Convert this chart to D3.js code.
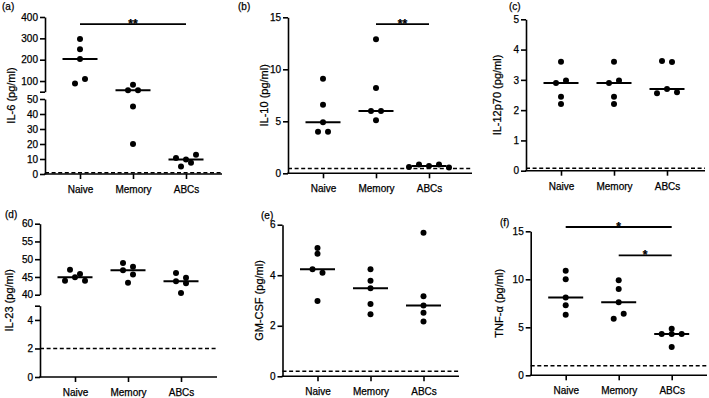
<!DOCTYPE html>
<html lang="en">
<head>
<meta charset="UTF-8">
<title>Cytokine panels</title>
<script src="https://d3js.org/d3.v7.min.js"></script>
<style>
  body { margin: 0; background: #fff; }
  svg { display: block; font-family: "Liberation Sans", Arial, Helvetica, sans-serif; }
  svg text { fill: #000; stroke: #000; stroke-width: 0.25px; }
  .axis text { font-family: "Liberation Sans", Arial, Helvetica, sans-serif; font-size: 10px; }
  .axis line, .axis path { stroke: #000; stroke-width: 1.6; }
</style>
</head>
<body>
<svg width="709" height="398"></svg>
<script>
const groups = ["Naive", "Memory", "ABCs"];

// replicate values per group (Naive, Memory, ABCs), pg/ml
const il6 = [[297, 249, 203, 88, 110], [82, 57, 57, 45, 20], [10.6, 9.6, 12.8, 5, 7.5]];
const il10 = [[9.1, 6.6, 4.9, 4.0, 4.0], [12.9, 8.2, 6.0, 6.0, 5.1], [0.6, 0.85, 0.7, 0.85, 0.55]];
const il12 = [[3.6, 2.9, 2.98, 2.44, 2.2], [3.6, 2.9, 2.98, 2.44, 2.2], [3.62, 3.59, 2.56, 2.7, 2.59]];
const il23 = [[43.9, 44.9, 43.9, 47, 45.8], [48.9, 47.9, 46.9, 45.7, 43.4], [46.1, 44.8, 43.8, 43.2, 40.5]];
const gmcsf = [[5.08, 4.85, 4.24, 4.1, 2.98], [4.24, 3.78, 3.48, 2.86, 2.46], [5.68, 3.17, 2.8, 2.52, 2.17]];
const tnfa = [[10.9, 10.0, 8.1, 7.3, 6.3], [9.9, 9.0, 7.6, 5.9, 6.4], [4.85, 4.3, 4.3, 4.3, 2.95]];

// detection limits (dashed lines)
const lod = { a: 0.8, b: 0.45, c: 0.08, d: 2, e: 0.2, f: 1 };

// tick labels
const il6TicksHigh = [100, 200, 300, 400];
const il6TicksLow = [0, 10, 20, 30, 40, 50];
const il10Ticks = [0, 5, 10, 15];
const il12Ticks = [0, 1, 2, 3, 4, 5];
const il23TicksHigh = [40, 45, 50, 55, 60];
const il23TicksLow = [0, 2, 4];
const gmcsfTicks = [0, 2, 4, 6];
const tnfaTicks = [0, 5, 10, 15];

// significance: [from, to, stars]
const sigA = [["Naive", "ABCs", "**"]];
const sigB = [["Memory", "ABCs", "**"]];
const sigF = [["Naive", "ABCs", "*"], ["Memory", "ABCs", "*"]];

const panels = [
  { tag: "(a)", title: "IL-6 (pg/ml)", values: il6, lod: lod.a, x0: 45, x1: 222, labelDx: -30, tagPos: [2, 10],
    segs: [{ domain: [50, 400], range: [91.7, 17], ticks: [50].concat(il6TicksHigh), blank: 50 },
           { domain: [0, 50], range: [174, 99], ticks: il6TicksLow }],
    sig: sigA, sigAt: [367] },
  { tag: "(b)", title: "IL-10 (pg/ml)", values: il10, lod: lod.b, x0: 288, x1: 472, labelDx: -20, tagPos: [238, 10],
    segs: [{ domain: [0, 15], range: [173.3, 17.3], ticks: il10Ticks }],
    sig: sigB, sigAt: [14.35] },
  { tag: "(c)", title: "IL-12p70 (pg/ml)", values: il12, lod: lod.c, x0: 526, x1: 705, labelDx: -25, tagPos: [509, 10],
    segs: [{ domain: [0, 5], range: [170.7, 19.3], ticks: il12Ticks }],
    sig: [], sigAt: [] },
  { tag: "(d)", title: "IL-23 (pg/ml)", values: il23, lod: lod.d, x0: 40, x1: 217, labelDx: -27, tagPos: [5, 218],
    segs: [{ domain: [40, 60], range: [294.7, 223.7], ticks: il23TicksHigh },
           { domain: [0, 5], range: [377, 305.7], ticks: il23TicksLow.concat([5]), blank: 5 }],
    sig: [], sigAt: [] },
  { tag: "(e)", title: "GM-CSF (pg/ml)", values: gmcsf, lod: lod.e, x0: 282.5, x1: 459, labelDx: -20, tagPos: [261, 219],
    segs: [{ domain: [0, 6], range: [376.3, 224.7], ticks: gmcsfTicks }],
    sig: [], sigAt: [] },
  { tag: "(f)", title: "TNF-\u03b1 (pg/ml)", values: tnfa, lod: lod.f, x0: 530.7, x1: 707, labelDx: -28, tagPos: [500, 226],
    segs: [{ domain: [0, 15], range: [375.3, 231.3], ticks: tnfaTicks }],
    sig: sigF, sigAt: [15.45, 12.5] }
];

const svg = d3.select("svg");

panels.forEach(function (p) {
  const g = svg.append("g");
  const x = d3.scalePoint().domain(groups).range([p.x0 + 35, p.x0 + 141]);
  const segs = p.segs.map(s => Object.assign({}, s, { scale: d3.scaleLinear().domain(s.domain).range(s.range) }));
  const y = function (v) {
    const s = segs.find(s => v >= s.domain[0] && v <= s.domain[1]) || segs[segs.length - 1];
    return s.scale(v);
  };
  const yBase = segs[segs.length - 1].range[0];

  // y axis (one piece per segment for broken axes)
  segs.forEach(function (s) {
    g.append("g")
      .attr("class", "axis")
      .attr("transform", `translate(${p.x0},0)`)
      .call(d3.axisLeft(s.scale).tickValues(s.ticks).tickSize(5).tickSizeOuter(0).tickPadding(2)
        .tickFormat(v => v === s.blank ? "" : v))
      .attr("font-family", null).attr("font-size", null);
  });

  // x axis
  const xa = g.append("g")
    .attr("class", "axis")
    .attr("transform", `translate(0,${yBase})`)
    .call(d3.axisBottom(x).tickSize(5).tickPadding(7))
    .attr("font-family", null).attr("font-size", null);
  xa.select(".domain").remove();
  g.append("line")
    .attr("x1", p.x0 - 0.8).attr("x2", p.x1)
    .attr("y1", yBase).attr("y2", yBase)
    .attr("stroke", "#000").attr("stroke-width", 1.6);

  // detection limit
  g.append("line")
    .attr("x1", p.x0).attr("x2", p.x1)
    .attr("y1", y(p.lod)).attr("y2", y(p.lod))
    .attr("stroke", "#000").attr("stroke-width", 1.5)
    .attr("stroke-dasharray", "4,2.6");

  // points, spread sideways when they sit on the same row
  p.values.forEach(function (vals, gi) {
    const pts = vals.map((v, i) => ({ v: v, i: i, py: y(v), dx: 0 }));
    const rows = [];
    pts.slice().sort((a, b) => b.v - a.v).forEach(function (pt) {
      const row = rows[rows.length - 1];
      if (row && pt.py - row[0].py < 5) row.push(pt); else rows.push([pt]);
    });
    rows.forEach(function (row) {
      row.sort((a, b) => a.i - b.i);
      row.forEach((pt, k) => pt.dx = (k - (row.length - 1) / 2) * 10);
    });
    const cx = x(groups[gi]);

    g.selectAll(null)
      .data(pts)
      .join("circle")
      .attr("cx", d => cx + d.dx)
      .attr("cy", d => d.py)
      .attr("r", 3)
      .attr("fill", "#000");

    const m = y(d3.median(vals));
    g.append("line")
      .attr("x1", cx - 17.5).attr("x2", cx + 17.5)
      .attr("y1", m).attr("y2", m)
      .attr("stroke", "#000").attr("stroke-width", 2);
  });

  // significance bars
  p.sig.forEach(function (s, k) {
    const yy = y(p.sigAt[k]);
    g.append("line")
      .attr("x1", x(s[0])).attr("x2", x(s[1]))
      .attr("y1", yy).attr("y2", yy)
      .attr("stroke", "#000").attr("stroke-width", 1.8);
    g.append("text")
      .attr("x", (x(s[0]) + x(s[1])) / 2)
      .attr("y", yy + 4)
      .attr("text-anchor", "middle")
      .attr("font-size", 12)
      .attr("font-weight", "bold")
      .text(s[2]);
  });

  // axis title
  const top = d3.min(segs, s => s.range[1]);
  g.append("text")
    .attr("transform", `translate(${p.x0 + p.labelDx},${(top + yBase) / 2}) rotate(-90)`)
    .attr("text-anchor", "middle")
    .attr("font-size", 11)
    .text(p.title);

  // panel tag
  g.append("text")
    .attr("x", p.tagPos[0]).attr("y", p.tagPos[1])
    .attr("font-size", 10)
    .text(p.tag);
});
</script>
</body>
</html>
